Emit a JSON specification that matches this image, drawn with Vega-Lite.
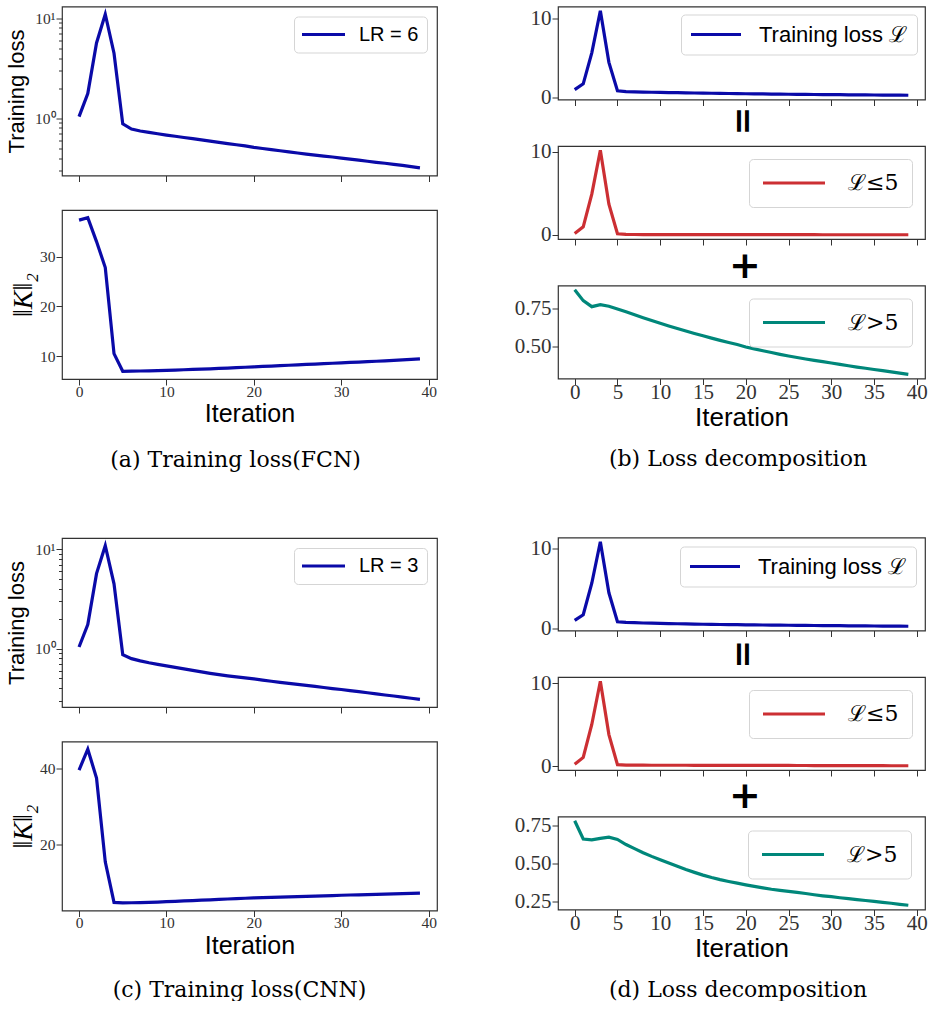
{
"$schema": "https://vega.github.io/schema/vega-lite/v6.json",
"padding": {"left": 4, "top": 3.5, "right": 0, "bottom": 0},
"background": "white",
"config": {
  "view": {"stroke": "#333", "strokeWidth": 1.2},
  "axis": {"domain": false, "grid": false, "tickColor": "#333", "tickSize": 6, "tickWidth": 1, "labelFont": "Liberation Serif", "labelColor": "#333", "labelPadding": 1, "labelFlush": false, "labelOverlap": false, "titleFont": "Liberation Sans", "titleFontWeight": "normal", "titleColor": "#000"},
  "legend": {"title": null, "orient": "top-right", "symbolStrokeWidth": 3, "symbolSize": 100, "fillColor": "rgba(255,255,255,0.8)", "strokeColor": "#d5d5d5", "cornerRadius": 4, "labelFont": "Liberation Sans", "labelColor": "#000", "labelLimit": 400},
  "line": {"strokeWidth": 3.2}
},
"datasets": {
  "fcn": [
    {"it":0,"loss":1.04,"low":0.16,"high":0.878,"k":37.3},
    {"it":1,"loss":1.765,"low":0.96,"high":0.805,"k":37.8},
    {"it":2,"loss":5.665,"low":4.9,"high":0.765,"k":33.0},
    {"it":3,"loss":10.98,"low":10.2,"high":0.778,"k":27.8},
    {"it":4,"loss":4.468,"low":3.7,"high":0.768,"k":10.5},
    {"it":5,"loss":0.88,"low":0.13,"high":0.75,"k":6.95},
    {"it":6,"loss":0.781,"low":0.05,"high":0.731,"k":6.98},
    {"it":7,"loss":0.746,"low":0.035,"high":0.711,"k":7.02},
    {"it":8,"loss":0.722,"low":0.03,"high":0.692,"k":7.06},
    {"it":9,"loss":0.7,"low":0.027,"high":0.673,"k":7.10},
    {"it":10,"loss":0.68,"low":0.025,"high":0.655,"k":7.15},
    {"it":11,"loss":0.661,"low":0.024,"high":0.637,"k":7.21},
    {"it":12,"loss":0.643,"low":0.023,"high":0.62,"k":7.27},
    {"it":13,"loss":0.625,"low":0.022,"high":0.603,"k":7.33},
    {"it":14,"loss":0.608,"low":0.021,"high":0.587,"k":7.39},
    {"it":15,"loss":0.591,"low":0.02,"high":0.571,"k":7.45},
    {"it":16,"loss":0.575,"low":0.019,"high":0.556,"k":7.53},
    {"it":17,"loss":0.559,"low":0.018,"high":0.541,"k":7.61},
    {"it":18,"loss":0.544,"low":0.017,"high":0.527,"k":7.69},
    {"it":19,"loss":0.529,"low":0.016,"high":0.513,"k":7.77},
    {"it":20,"loss":0.512,"low":0.015,"high":0.497,"k":7.85},
    {"it":21,"loss":0.499,"low":0.0145,"high":0.484,"k":7.93},
    {"it":22,"loss":0.486,"low":0.014,"high":0.472,"k":8.01},
    {"it":23,"loss":0.474,"low":0.0135,"high":0.46,"k":8.09},
    {"it":24,"loss":0.461,"low":0.013,"high":0.448,"k":8.17},
    {"it":25,"loss":0.45,"low":0.0125,"high":0.437,"k":8.25},
    {"it":26,"loss":0.439,"low":0.012,"high":0.427,"k":8.33},
    {"it":27,"loss":0.429,"low":0.0115,"high":0.417,"k":8.41},
    {"it":28,"loss":0.419,"low":0.011,"high":0.408,"k":8.49},
    {"it":29,"loss":0.41,"low":0.0105,"high":0.399,"k":8.57},
    {"it":30,"loss":0.4,"low":0.01,"high":0.39,"k":8.65},
    {"it":31,"loss":0.39,"low":0.0095,"high":0.381,"k":8.73},
    {"it":32,"loss":0.381,"low":0.009,"high":0.372,"k":8.81},
    {"it":33,"loss":0.372,"low":0.0085,"high":0.363,"k":8.89},
    {"it":34,"loss":0.363,"low":0.008,"high":0.355,"k":8.97},
    {"it":35,"loss":0.355,"low":0.0075,"high":0.347,"k":9.05},
    {"it":36,"loss":0.346,"low":0.007,"high":0.339,"k":9.15},
    {"it":37,"loss":0.338,"low":0.0065,"high":0.331,"k":9.25},
    {"it":38,"loss":0.329,"low":0.006,"high":0.323,"k":9.35},
    {"it":39,"loss":0.32,"low":0.005,"high":0.315,"k":9.45}
  ],
  "cnn": [
    {"it":0,"loss":1.038,"low":0.26,"high":0.778,"k":39.6},
    {"it":1,"loss":1.748,"low":1.09,"high":0.658,"k":45.1},
    {"it":2,"loss":5.702,"low":5.05,"high":0.652,"k":37.5},
    {"it":3,"loss":10.902,"low":10.24,"high":0.662,"k":15.4},
    {"it":4,"loss":4.5,"low":3.83,"high":0.67,"k":4.7},
    {"it":5,"loss":0.87,"low":0.215,"high":0.655,"k":4.6},
    {"it":6,"loss":0.792,"low":0.17,"high":0.622,"k":4.62},
    {"it":7,"loss":0.753,"low":0.158,"high":0.595,"k":4.66},
    {"it":8,"loss":0.72,"low":0.152,"high":0.568,"k":4.72},
    {"it":9,"loss":0.694,"low":0.15,"high":0.544,"k":4.8},
    {"it":10,"loss":0.67,"low":0.148,"high":0.522,"k":4.9},
    {"it":11,"loss":0.647,"low":0.147,"high":0.5,"k":5.0},
    {"it":12,"loss":0.625,"low":0.146,"high":0.479,"k":5.1},
    {"it":13,"loss":0.603,"low":0.145,"high":0.458,"k":5.2},
    {"it":14,"loss":0.583,"low":0.144,"high":0.439,"k":5.3},
    {"it":15,"loss":0.564,"low":0.143,"high":0.421,"k":5.4},
    {"it":16,"loss":0.547,"low":0.142,"high":0.405,"k":5.5},
    {"it":17,"loss":0.532,"low":0.141,"high":0.391,"k":5.6},
    {"it":18,"loss":0.519,"low":0.14,"high":0.379,"k":5.7},
    {"it":19,"loss":0.507,"low":0.139,"high":0.368,"k":5.8},
    {"it":20,"loss":0.495,"low":0.138,"high":0.357,"k":5.9},
    {"it":21,"loss":0.482,"low":0.135,"high":0.347,"k":5.98},
    {"it":22,"loss":0.469,"low":0.132,"high":0.337,"k":6.05},
    {"it":23,"loss":0.457,"low":0.129,"high":0.328,"k":6.12},
    {"it":24,"loss":0.447,"low":0.126,"high":0.321,"k":6.18},
    {"it":25,"loss":0.437,"low":0.123,"high":0.314,"k":6.25},
    {"it":26,"loss":0.427,"low":0.12,"high":0.307,"k":6.32},
    {"it":27,"loss":0.417,"low":0.117,"high":0.3,"k":6.38},
    {"it":28,"loss":0.406,"low":0.114,"high":0.292,"k":6.45},
    {"it":29,"loss":0.396,"low":0.111,"high":0.285,"k":6.52},
    {"it":30,"loss":0.387,"low":0.108,"high":0.279,"k":6.6},
    {"it":31,"loss":0.377,"low":0.105,"high":0.272,"k":6.66},
    {"it":32,"loss":0.368,"low":0.102,"high":0.266,"k":6.72},
    {"it":33,"loss":0.359,"low":0.099,"high":0.26,"k":6.78},
    {"it":34,"loss":0.35,"low":0.096,"high":0.254,"k":6.84},
    {"it":35,"loss":0.341,"low":0.093,"high":0.248,"k":6.9},
    {"it":36,"loss":0.333,"low":0.091,"high":0.242,"k":6.97},
    {"it":37,"loss":0.325,"low":0.089,"high":0.236,"k":7.04},
    {"it":38,"loss":0.316,"low":0.087,"high":0.229,"k":7.1},
    {"it":39,"loss":0.308,"low":0.085,"high":0.223,"k":7.16}
  ]
},
"spacing": 75,
"resolve": {"scale": {"color": "independent"}, "legend": {"color": "independent"}},
"hconcat": [
  {
    "bounds": "flush",
    "spacing": 34.5,
    "resolve": {"scale": {"color": "independent"}, "legend": {"color": "independent"}},
    "vconcat": [
      {
        "width": 375, "height": 169,
        "data": {"name": "fcn"},
        "resolve": {"axis": {"y": "independent"}},
        "layer": [
          {"mark": {"type": "line"},
           "encoding": {
             "x": {"field": "it", "type": "quantitative", "scale": {"domain": [-1.95, 40.95], "nice": false, "zero": false}, "axis": {"values": [0,10,20,30,40], "labels": false, "title": null}},
             "y": {"field": "loss", "type": "quantitative", "scale": {"type": "log", "domain": [0.268, 13.1], "nice": false, "zero": false}, "axis": {"orient": "left", "values": [1, 10], "labelExpr": "datum.value >= 5 ? '10¹' : '10⁰'", "labelFontSize": 15.5, "title": "Training loss", "titleFontSize": 22, "titlePadding": 6}},
             "color": {"datum": "LR = 6", "type": "nominal", "scale": {"range": ["#0a0aa8"]}, "legend": {"offset": 10, "padding": 8, "symbolType": "M-2,0H6.6", "labelFontSize": 20, "labelOffset": 37}}
           }},
          {"mark": {"type": "line", "opacity": 0},
           "encoding": {
             "x": {"field": "it", "type": "quantitative"},
             "y": {"field": "loss", "type": "quantitative", "axis": {"orient": "left", "values": [0.3,0.4,0.5,0.6,0.7,0.8,0.9,2,3,4,5,6,7,8,9], "labels": false, "tickSize": 3.5, "title": null}}
           }}
        ]
      },
      {
        "width": 375, "height": 169,
        "data": {"name": "fcn"},
        "mark": {"type": "line", "color": "#0a0aa8"},
        "encoding": {
          "x": {"field": "it", "type": "quantitative", "scale": {"domain": [-1.95, 40.95], "nice": false, "zero": false}, "axis": {"values": [0,10,20,30,40], "labelFontSize": 15.5, "labelPadding": -1, "title": "Iteration", "titleFontSize": 25, "titlePadding": 2}},
          "y": {"field": "k", "type": "quantitative", "scale": {"domain": [5.41, 39.34], "nice": false, "zero": false}, "axis": {"values": [10, 20, 30], "labelFontSize": 15.5, "title": "‖K‖₂", "titleFont": "Liberation Serif", "titleFontStyle": "italic", "titleFontSize": 28, "titlePadding": 2}}
        }
      },
      {
        "width": 375, "height": 90, "view": {"stroke": null},
        "data": {"values": [{"caption": "(a) Training loss(FCN)"}]},
        "mark": {"type": "text", "font": "DejaVu Serif", "fontSize": 22, "dx": -14, "dy": 1, "baseline": "middle", "align": "center"},
        "encoding": {"text": {"field": "caption", "type": "nominal"}}
      },
      {
        "width": 375, "height": 169,
        "data": {"name": "cnn"},
        "resolve": {"axis": {"y": "independent"}},
        "layer": [
          {"mark": {"type": "line"},
           "encoding": {
             "x": {"field": "it", "type": "quantitative", "scale": {"domain": [-1.95, 40.95], "nice": false, "zero": false}, "axis": {"values": [0,10,20,30,40], "labels": false, "title": null}},
             "y": {"field": "loss", "type": "quantitative", "scale": {"type": "log", "domain": [0.258, 13.03], "nice": false, "zero": false}, "axis": {"orient": "left", "values": [1, 10], "labelExpr": "datum.value >= 5 ? '10¹' : '10⁰'", "labelFontSize": 15.5, "title": "Training loss", "titleFontSize": 22, "titlePadding": 6}},
             "color": {"datum": "LR = 3", "type": "nominal", "scale": {"range": ["#0a0aa8"]}, "legend": {"offset": 10, "padding": 8, "symbolType": "M-2,0H6.6", "labelFontSize": 20, "labelOffset": 37}}
           }},
          {"mark": {"type": "line", "opacity": 0},
           "encoding": {
             "x": {"field": "it", "type": "quantitative"},
             "y": {"field": "loss", "type": "quantitative", "axis": {"orient": "left", "values": [0.3,0.4,0.5,0.6,0.7,0.8,0.9,2,3,4,5,6,7,8,9], "labels": false, "tickSize": 3.5, "title": null}}
           }}
        ]
      },
      {
        "width": 375, "height": 169,
        "data": {"name": "cnn"},
        "mark": {"type": "line", "color": "#0a0aa8"},
        "encoding": {
          "x": {"field": "it", "type": "quantitative", "scale": {"domain": [-1.95, 40.95], "nice": false, "zero": false}, "axis": {"values": [0,10,20,30,40], "labelFontSize": 15.5, "labelPadding": -1, "title": "Iteration", "titleFontSize": 25, "titlePadding": 2}},
          "y": {"field": "k", "type": "quantitative", "scale": {"domain": [2.575, 47.125], "nice": false, "zero": false}, "axis": {"values": [20, 40], "labelFontSize": 15.5, "title": "‖K‖₂", "titleFont": "Liberation Serif", "titleFontStyle": "italic", "titleFontSize": 28, "titlePadding": 2}}
        }
      },
      {
        "width": 375, "height": 55, "view": {"stroke": null},
        "data": {"values": [{"caption": "(c) Training loss(CNN)"}]},
        "mark": {"type": "text", "font": "DejaVu Serif", "fontSize": 22, "dx": -10, "dy": 17, "baseline": "middle", "align": "center"},
        "encoding": {"text": {"field": "caption", "type": "nominal"}}
      }
    ]
  },
  {
    "bounds": "flush",
    "spacing": 46.5,
    "resolve": {"scale": {"color": "independent"}, "legend": {"color": "independent"}},
    "vconcat": [
      {
        "width": 367, "height": 93,
        "data": {"name": "fcn"},
        "mark": {"type": "line"},
        "encoding": {
          "x": {"field": "it", "type": "quantitative", "scale": {"domain": [-1.95, 40.95], "nice": false, "zero": false}, "axis": {"values": [0,5,10,15,20,25,30,35,40], "labels": false, "title": null}},
          "y": {"field": "loss", "type": "quantitative", "scale": {"domain": [-0.213, 11.51], "nice": false, "zero": false}, "axis": {"values": [0, 10], "labelFontSize": 21, "title": null}},
          "color": {"datum": "Training loss ℒ", "type": "nominal", "scale": {"range": ["#0a0aa8"]}, "legend": {"offset": 8, "padding": 9, "symbolType": "M-2,0H8", "labelFontSize": 22, "labelOffset": 47}}
        }
      },
      {
        "width": 367, "height": 93,
        "data": {"name": "fcn"},
        "title": {"text": "=", "angle": 90, "font": "DejaVu Sans", "fontWeight": "bold", "fontSize": 34, "color": "#000", "anchor": "middle", "baseline": "middle", "align": "center", "offset": -3, "dx": 5.5},
        "mark": {"type": "line"},
        "encoding": {
          "x": {"field": "it", "type": "quantitative", "scale": {"domain": [-1.95, 40.95], "nice": false, "zero": false}, "axis": {"values": [0,5,10,15,20,25,30,35,40], "labels": false, "title": null}},
          "y": {"field": "low", "type": "quantitative", "scale": {"domain": [-0.505, 10.71], "nice": false, "zero": false}, "axis": {"values": [0, 10], "labelFontSize": 21, "title": null}},
          "color": {"datum": "ℒ≤5", "type": "nominal", "scale": {"range": ["#cc2f33"]}, "legend": {"offset": 13, "padding": 13, "symbolType": "M-2,0H10.4", "labelFontSize": 22, "labelFont": "DejaVu Serif", "labelOffset": 64}}
        }
      },
      {
        "width": 367, "height": 93,
        "data": {"name": "fcn"},
        "title": {"text": "+", "font": "DejaVu Sans", "fontWeight": "bold", "fontSize": 38, "color": "#000", "anchor": "middle", "baseline": "middle", "align": "center", "offset": -22, "dx": 3.5},
        "mark": {"type": "line"},
        "encoding": {
          "x": {"field": "it", "type": "quantitative", "scale": {"domain": [-1.95, 40.95], "nice": false, "zero": false}, "axis": {"values": [0,5,10,15,20,25,30,35,40], "labelFontSize": 21, "labelPadding": -3, "title": "Iteration", "titleFontSize": 26, "titlePadding": 2}},
          "y": {"field": "high", "type": "quantitative", "scale": {"domain": [0.287, 0.906], "nice": false, "zero": false}, "axis": {"values": [0.5, 0.75], "format": ".2f", "labelFontSize": 21, "title": null}},
          "color": {"datum": "ℒ>5", "type": "nominal", "scale": {"range": ["#00877a"]}, "legend": {"offset": 13, "padding": 13, "symbolType": "M-2,0H10.4", "labelFontSize": 22, "labelFont": "DejaVu Serif", "labelOffset": 64}}
        }
      },
      {
        "width": 367, "height": 66, "view": {"stroke": null},
        "data": {"values": [{"caption": "(b) Loss decomposition"}]},
        "mark": {"type": "text", "font": "DejaVu Serif", "fontSize": 22, "dx": -3.5, "dy": 1, "baseline": "middle", "align": "center"},
        "encoding": {"text": {"field": "caption", "type": "nominal"}}
      },
      {
        "width": 367, "height": 93,
        "data": {"name": "cnn"},
        "mark": {"type": "line"},
        "encoding": {
          "x": {"field": "it", "type": "quantitative", "scale": {"domain": [-1.95, 40.95], "nice": false, "zero": false}, "axis": {"values": [0,5,10,15,20,25,30,35,40], "labels": false, "title": null}},
          "y": {"field": "loss", "type": "quantitative", "scale": {"domain": [-0.222, 11.43], "nice": false, "zero": false}, "axis": {"values": [0, 10], "labelFontSize": 21, "title": null}},
          "color": {"datum": "Training loss ℒ", "type": "nominal", "scale": {"range": ["#0a0aa8"]}, "legend": {"offset": 9, "padding": 9, "symbolType": "M-2,0H8", "labelFontSize": 22, "labelOffset": 47}}
        }
      },
      {
        "width": 367, "height": 93,
        "data": {"name": "cnn"},
        "title": {"text": "=", "angle": 90, "font": "DejaVu Sans", "fontWeight": "bold", "fontSize": 34, "color": "#000", "anchor": "middle", "baseline": "middle", "align": "center", "offset": -5, "dx": 5.5},
        "mark": {"type": "line"},
        "encoding": {
          "x": {"field": "it", "type": "quantitative", "scale": {"domain": [-1.95, 40.95], "nice": false, "zero": false}, "axis": {"values": [0,5,10,15,20,25,30,35,40], "labels": false, "title": null}},
          "y": {"field": "low", "type": "quantitative", "scale": {"domain": [-0.423, 10.75], "nice": false, "zero": false}, "axis": {"values": [0, 10], "labelFontSize": 21, "title": null}},
          "color": {"datum": "ℒ≤5", "type": "nominal", "scale": {"range": ["#cc2f33"]}, "legend": {"offset": 13, "padding": 13, "symbolType": "M-2,0H10.4", "labelFontSize": 22, "labelFont": "DejaVu Serif", "labelOffset": 64}}
        }
      },
      {
        "width": 367, "height": 93,
        "data": {"name": "cnn"},
        "title": {"text": "+", "font": "DejaVu Sans", "fontWeight": "bold", "fontSize": 38, "color": "#000", "anchor": "middle", "baseline": "middle", "align": "center", "offset": -21, "dx": 3.5},
        "mark": {"type": "line"},
        "encoding": {
          "x": {"field": "it", "type": "quantitative", "scale": {"domain": [-1.95, 40.95], "nice": false, "zero": false}, "axis": {"values": [0,5,10,15,20,25,30,35,40], "labelFontSize": 21, "labelPadding": -3, "title": "Iteration", "titleFontSize": 26, "titlePadding": 2}},
          "y": {"field": "high", "type": "quantitative", "scale": {"domain": [0.195, 0.806], "nice": false, "zero": false}, "axis": {"values": [0.25, 0.5, 0.75], "format": ".2f", "labelFontSize": 21, "title": null}},
          "color": {"datum": "ℒ>5", "type": "nominal", "scale": {"range": ["#00877a"]}, "legend": {"offset": 14, "padding": 13, "symbolType": "M-2,0H10.4", "labelFontSize": 22, "labelFont": "DejaVu Serif", "labelOffset": 64}}
        }
      },
      {
        "width": 367, "height": 44, "view": {"stroke": null},
        "data": {"values": [{"caption": "(d) Loss decomposition"}]},
        "mark": {"type": "text", "font": "DejaVu Serif", "fontSize": 22, "dx": -3.5, "dy": 11.5, "baseline": "middle", "align": "center"},
        "encoding": {"text": {"field": "caption", "type": "nominal"}}
      }
    ]
  }
]
}
